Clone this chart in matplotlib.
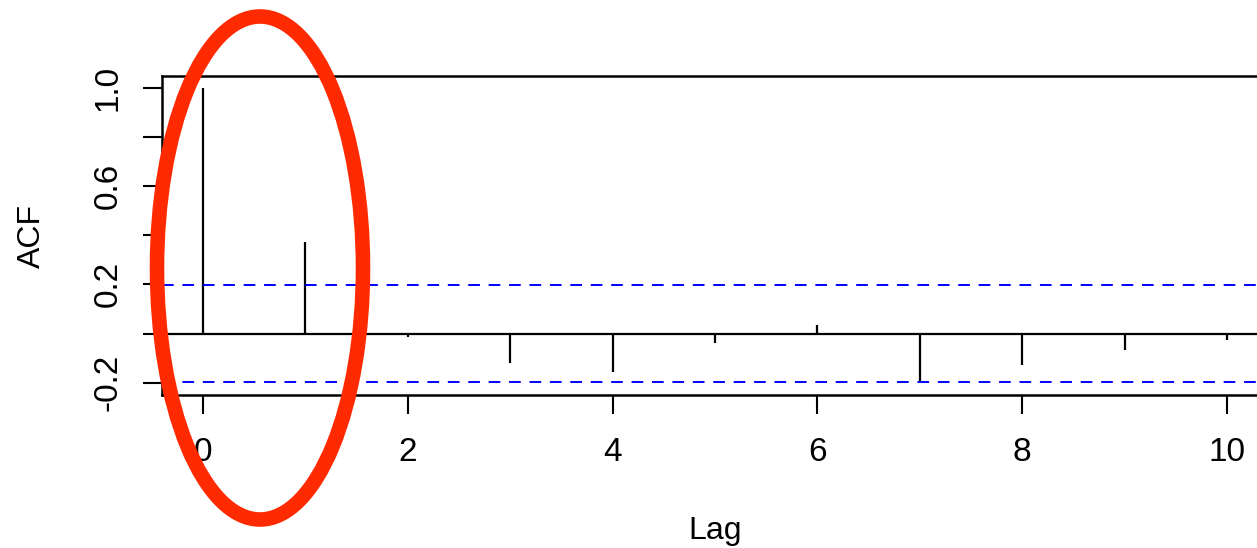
import numpy as np
import matplotlib.pyplot as plt
from matplotlib.patches import Ellipse

lags = [0, 1, 2, 3, 4, 5, 6, 7, 8, 9, 10]
acf = [1.0, 0.374, -0.012, -0.12, -0.157, -0.04, 0.034, -0.202, -0.127, -0.065, -0.028]
conf = 0.196
yticks = [-0.2, 0.0, 0.2, 0.4, 0.6, 0.8, 1.0]
ylabels = ['-0.2', '', '0.2', '', '0.6', '', '1.0']
xticks = [0, 2, 4, 6, 8, 10]

plt.rcParams['font.family'] = ['Liberation Sans', 'DejaVu Sans']

fig = plt.figure(figsize=(12.57, 5.48), dpi=100)
W, H = 1257, 548
# axes box in pixels: left 162, right 1268 (cut off), top 76, bottom 395
ax = fig.add_axes([162 / W, 1 - 395 / H, (1268 - 162) / W, (395 - 76) / H])
ax.set_xlim(-0.4, 10.4)
ax.set_ylim(-0.25, 1.048)

ax.vlines(lags, 0, acf, colors='black', lw=1.6)
ax.axhline(0, color='black', lw=1.6)
ax.axhline(conf, color='#0000ff', lw=1.4, ls=(0, (6, 4.5)))
ax.axhline(-conf, color='#0000ff', lw=1.4, ls=(0, (6, 4.5)))

for s in ax.spines.values():
    s.set_linewidth(1.8)

ax.set_yticks(yticks)
ax.set_yticklabels(ylabels, rotation=90, va='center')
ax.set_xticks(xticks)
ax.tick_params(axis='both', length=13.5, width=1.5, labelsize=24)
ax.tick_params(axis='y', pad=14)
ax.tick_params(axis='x', pad=17)
ax.set_xlabel('Lag', fontsize=23)
ax.set_ylabel('ACF', fontsize=23)
ax.xaxis.set_label_coords(0.5, -0.38)
ax.yaxis.set_label_coords(-0.1044, 0.5)

# red highlight ellipse
ell = Ellipse((260 / W, 1 - 268 / H), 206 / W, 503 / H, transform=fig.transFigure,
              fill=False, edgecolor='#ff2a00', lw=10.5, clip_on=False)
fig.patches.append(ell)

fig.savefig('out.png', dpi=100)
